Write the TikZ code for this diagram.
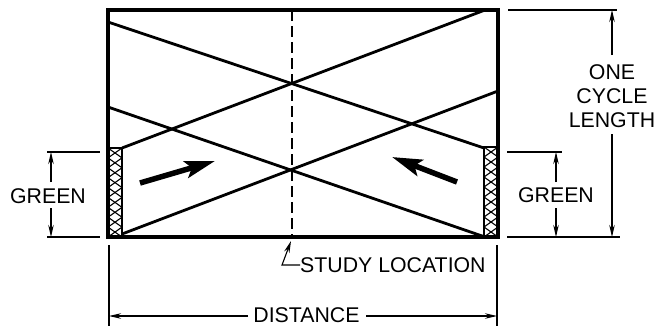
\documentclass[tikz,border=0pt]{standalone}
\usepackage{fontspec}
\setmainfont{Liberation Sans}
\usetikzlibrary{arrows.meta}
\begin{document}
\begin{tikzpicture}[x=1bp,y=-1bp,
  lbl/.style={font=\fontsize{21.3bp}{24bp}\selectfont, inner sep=0pt, align=center},
  boxline/.style={line width=3.2bp},
  pathline/.style={line width=2.8bp},
  dimline/.style={line width=1.1bp},
  dimarrow/.style={line width=1.1bp,-{Stealth[length=12bp,width=5.5bp]}},
  bigarrow/.style={line width=5.5bp,-{Stealth[length=30bp,width=17bp,inset=6bp]}},
  hatchline/.style={line width=1.1bp},
]
\useasboundingbox (0,0) rectangle (658,326);
% main frame
\coordinate (TL) at (108,10);
\coordinate (BR) at (498,237);
% trajectories
\begin{scope}
\clip (108,10) rectangle (498,237);
\draw[pathline] (108,22) -- (484,148);
\draw[pathline] (485,10) -- (122,148);
\draw[pathline] (108,107) -- (485,237);
\draw[pathline] (498,91) -- (122,234);
\end{scope}
% green bands with cross hatching
\foreach \xa/\xb/\yt in {108/122/148, 484/498/147}{
  \begin{scope}
    \clip (\xa,\yt) rectangle (\xb,237);
    \fill[white] (\xa,\yt) rectangle (\xb,237);
    \pgfmathsetmacro{\per}{(237-\yt)/9}
    \foreach \k in {-1,...,10}{
      \draw[hatchline] (\xa,\yt+\k*\per) -- (\xb,\yt+\k*\per+\per);
      \draw[hatchline] (\xb,\yt+\k*\per) -- (\xa,\yt+\k*\per+\per);
    }
  \end{scope}
  \draw[pathline] (\xa,\yt) rectangle (\xb,237);
}
\draw[boxline] (TL) rectangle (BR);
% study location line
\draw[line width=1.5bp, dash pattern=on 11bp off 5bp] (292,10) -- (292,237);
\node[lbl, anchor=west] (study) at (300,265) {STUDY LOCATION};
\coordinate (bend) at (282,265);
\coordinate (studytip) at (291,241);
\draw[dimarrow] (study.west) -- (bend) -- (studytip);
% direction arrows
\coordinate (la1) at (140,183); \coordinate (la2) at (215,161);
\coordinate (ra1) at (457,182); \coordinate (ra2) at (392,157);
\draw[bigarrow] (la1) -- (la2);
\draw[bigarrow] (ra1) -- (ra2);
% left GREEN dimension
\draw[dimline] (47,152) -- (100,152);
\draw[dimline] (47,237) -- (100,237);
\node[lbl] (gl) at (48,196.5) {GREEN};
\draw[dimarrow] (51,182) -- (51,152);
\draw[dimarrow] (51,208) -- (51,237);
% right GREEN dimension
\draw[dimline] (507,152) -- (562,152);
\draw[dimline] (507,237) -- (620,237);
\node[lbl] (gr) at (556,195.5) {GREEN};
\draw[dimarrow] (556,182) -- (556,152);
\draw[dimarrow] (556,208) -- (556,237);
% one cycle length
\draw[dimline] (508,10) -- (617,10);
\node[lbl] (cyc) at (612,96) {ONE\\CYCLE\\LENGTH};
\draw[dimarrow] (612,55) -- (612,10);
\draw[dimarrow] (612,134) -- (612,237);
% distance
\draw[dimline] (109,245) -- (109,326);
\draw[dimline] (497,245) -- (497,326);
\node[lbl] (dist) at (306.5,315) {DISTANCE};
\draw[dimarrow] (248,316) -- (109,316);
\draw[dimarrow] (366,316) -- (497,316);
\end{tikzpicture}
\end{document}
